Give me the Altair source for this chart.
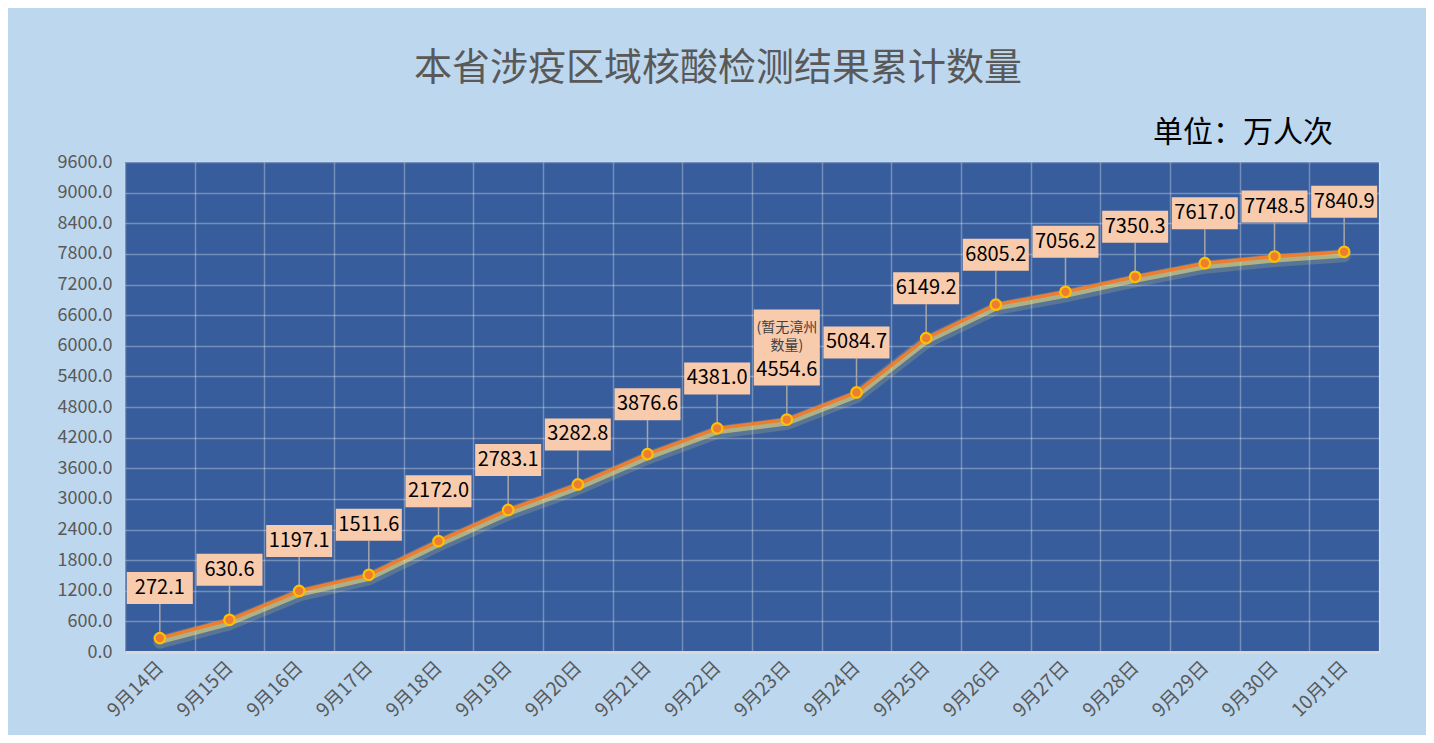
import altair as alt
import pandas as pd

dates = ["9月14日", "9月15日", "9月16日", "9月17日", "9月18日", "9月19日", "9月20日", "9月21日",
         "9月22日", "9月23日", "9月24日", "9月25日", "9月26日", "9月27日", "9月28日", "9月29日",
         "9月30日", "10月1日"]
values = [272.1, 630.6, 1197.1, 1511.6, 2172.0, 2783.1, 3282.8, 3876.6, 4381.0, 4554.6,
          5084.7, 6149.2, 6805.2, 7056.2, 7350.3, 7617.0, 7748.5, 7840.9]
notes = ["", "", "", "", "", "", "", "", "", "(暂无漳州\n数量)", "", "", "", "", "", "", "", ""]
y_ticks = [i * 600 for i in range(17)]

df = pd.DataFrame({"date": dates, "value": values, "note": notes})
FONT = "Noto Sans CJK SC"

x_axis = alt.Axis(title=None, labelAngle=-45, labelAlign="right", labelBaseline="middle",
                  labelFontSize=19, labelColor="#595959", labelFont=FONT, labelPadding=12,
                  ticks=False, domain=True, domainColor="#D9D9D9", domainWidth=3,
                  grid=True, gridColor="#FFFFFF", gridOpacity=0.3, gridWidth=1.5,
                  tickBand="extent")
x_enc = alt.X("date:O", sort=dates, axis=x_axis,
              scale=alt.Scale(type="band", paddingInner=0, paddingOuter=0))
y_enc = alt.Y("value:Q", scale=alt.Scale(domain=[0, 9600], nice=False),
              axis=alt.Axis(title=None, values=y_ticks, format=".1f", labelFontSize=18,
                            labelColor="#595959", labelFont=FONT, labelPadding=13,
                            ticks=False, domain=False, grid=True, gridColor="#FFFFFF",
                            gridOpacity=0.3, gridWidth=1.5))

base = alt.Chart(df).encode(x=x_enc, y=y_enc)

glow_outer = base.mark_line(color="#F2E27C", strokeWidth=13, opacity=0.18, yOffset=4, strokeCap="round")
glow = base.mark_line(color="#F2E27C", strokeWidth=6, opacity=0.55, yOffset=3, strokeCap="round")
leader = base.mark_rule(color="#A6A6A6", strokeWidth=1.5, y2Offset=-34).encode(y2=alt.Y2("value:Q"))
line = base.mark_line(color="#ED7D31", strokeWidth=3.5)
pts = base.mark_point(filled=True, fill="#ED7D31", stroke="#FFC000", strokeWidth=2.2,
                      size=110, opacity=1, shape="circle")
box = base.mark_bar(color="#F8CBAD", size=66, yOffset=-66, y2Offset=-34).encode(y2=alt.Y2("value:Q"))
note_box = base.transform_filter("datum.note != ''").mark_bar(
    color="#F8CBAD", size=66, yOffset=-110, y2Offset=-65).encode(y2=alt.Y2("value:Q"))
label = base.mark_text(font=FONT, fontSize=20, color="#000000", dy=-50, baseline="middle").encode(
    text=alt.Text("value:Q", format=".1f"))
note = base.transform_filter("datum.note != ''").transform_calculate(
    lines="split(datum.note, '\\n')").mark_text(
    font=FONT, fontSize=14, color="#404040", dy=-92, baseline="middle", lineHeight=18).encode(
    text="lines:N")

unit = alt.Chart(pd.DataFrame({"t": ["单位：万人次"]})).mark_text(
    font=FONT, fontSize=30, color="#000000", align="right", baseline="middle").encode(
    text="t:N", x=alt.value(1208), y=alt.value(-29))

chart = alt.layer(glow_outer, glow, leader, line, pts, box, note_box, label, note, unit).properties(
    width=1254, height=490, background="#BDD7EE",
    padding={"left": 117, "top": 154, "right": 47, "bottom": 83},
    autosize=alt.AutoSizeParams(type="none"),
    title=alt.TitleParams("本省涉疫区域核酸检测结果累计数量", fontSize=38, color="#595959",
                          font=FONT, fontWeight="normal", anchor="middle", frame="bounds",
                          offset=30),
).configure_view(fill="#385D9C", strokeWidth=0)

chart.save("out.html", embed_options={"renderer": "svg", "actions": False})
